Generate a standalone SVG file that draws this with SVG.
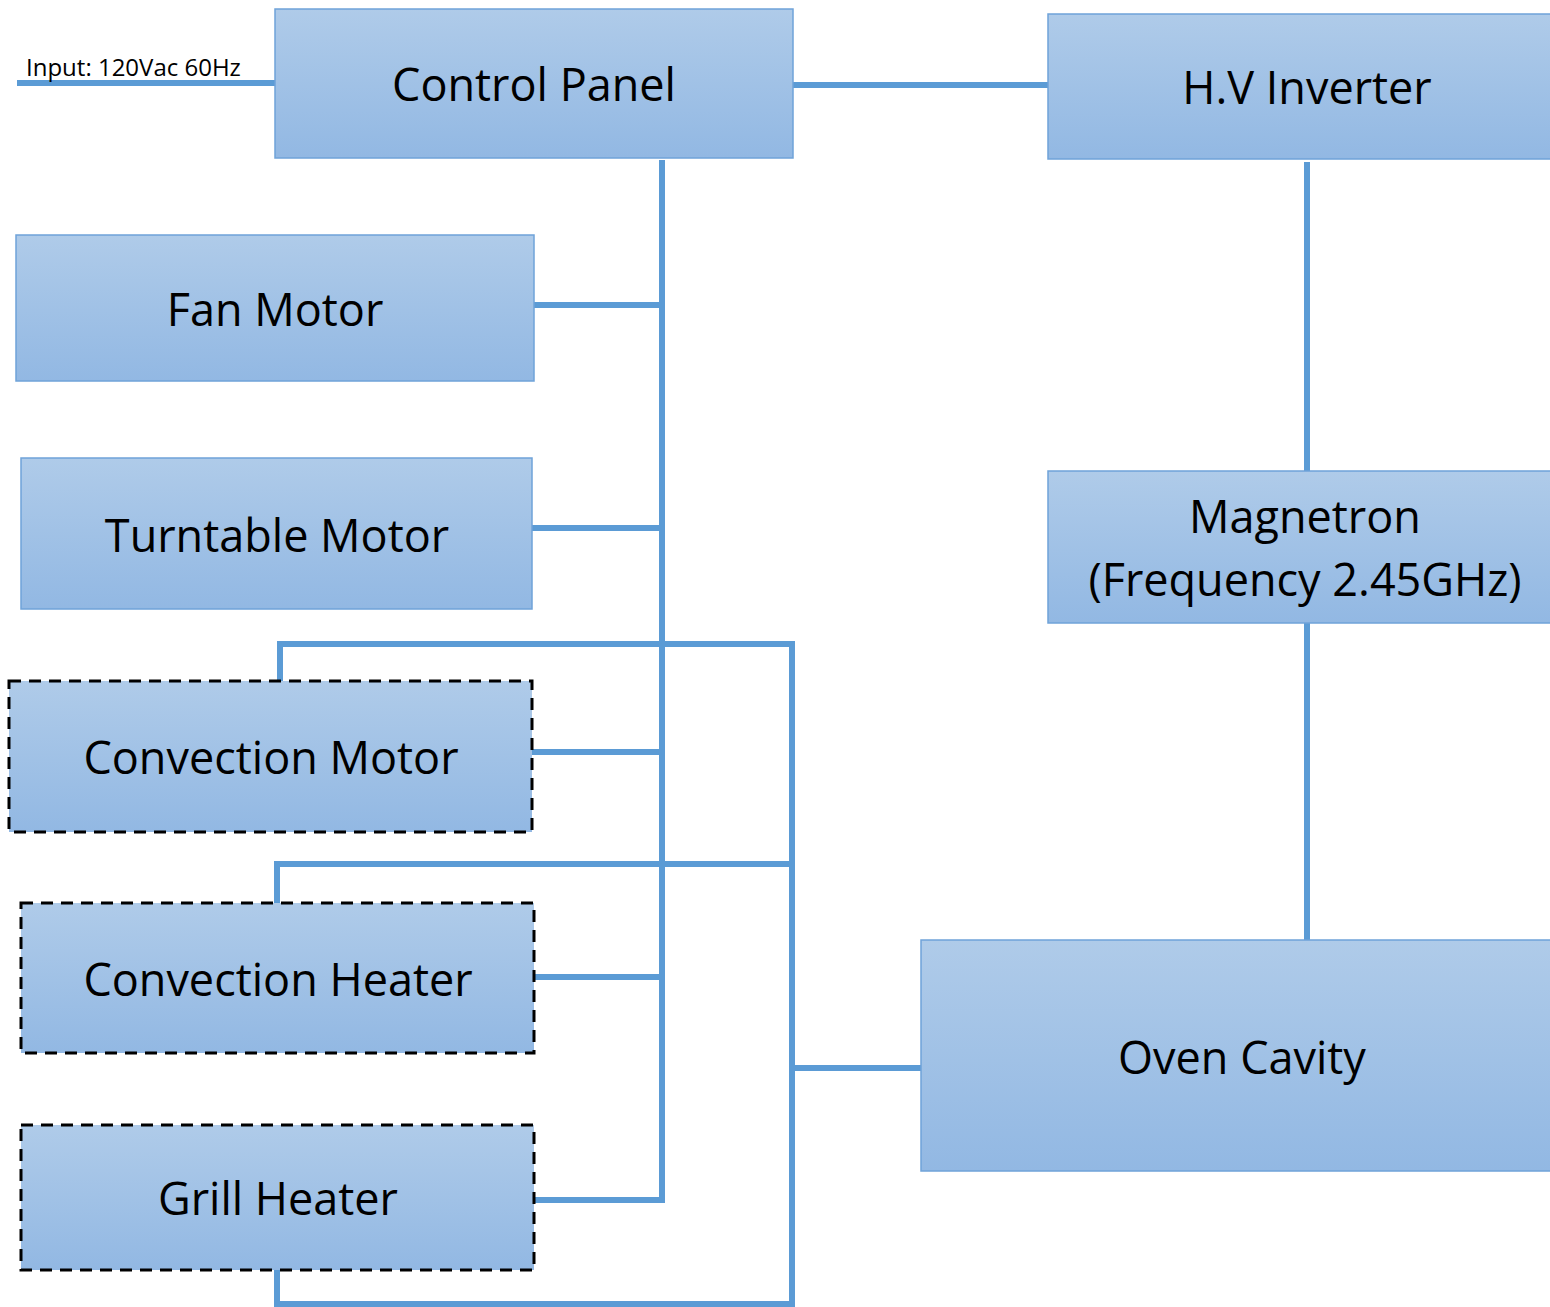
<svg xmlns="http://www.w3.org/2000/svg" width="1550" height="1307" viewBox="0 0 1550 1307">
<defs>
<linearGradient id="g" x1="0" y1="0" x2="0" y2="1">
<stop offset="0" stop-color="#afcbe9"/>
<stop offset="1" stop-color="#92b8e3"/>
</linearGradient>
<style>
.box{fill:url(#g);stroke:#6fa3d9;stroke-width:1.5}
.dash{fill:url(#g);stroke:#000;stroke-width:3;stroke-dasharray:12 8}
.lbl{font-family:"Open Sans","Noto Sans",sans-serif;font-size:45px;fill:#000;text-anchor:middle}
.small{font-family:"Open Sans","Noto Sans",sans-serif;font-size:24px;fill:#000}
.c{stroke:#5b9bd5;stroke-width:6;fill:none}
</style>
</defs>
<rect width="1550" height="1307" fill="#fff"/>
<g id="connectors">
<path class="c" d="M17 83H275"/>
<path class="c" d="M793 85H1048"/>
<path class="c" d="M662 160V1203"/>
<path class="c" d="M534 305H662"/>
<path class="c" d="M532 528H662"/>
<path class="c" d="M532 752H662"/>
<path class="c" d="M530 977H662"/>
<path class="c" d="M534 1200H665"/>
<path class="c" d="M280 681V644H792"/>
<path class="c" d="M792 641V1307"/>
<path class="c" d="M277 903V864H792"/>
<path class="c" d="M277 1270V1304H795"/>
<path class="c" d="M792 1068H921"/>
<path class="c" d="M1307 162V471"/>
<path class="c" d="M1307 623V940"/>
<text class="small" x="26" y="76">Input: 120Vac 60Hz</text>
</g>
<g id="control-panel"><rect class="box" x="275" y="9" width="518" height="149"/><text class="lbl" x="534" y="101">Control Panel</text></g>
<g id="hv-inverter"><rect class="box" x="1048" y="14" width="510" height="145"/><text class="lbl" x="1307" y="104">H.V Inverter</text></g>
<g id="fan-motor"><rect class="box" x="16" y="235" width="518" height="146"/><text class="lbl" x="275" y="326">Fan Motor</text></g>
<g id="turntable-motor"><rect class="box" x="21" y="458" width="511" height="151"/><text class="lbl" x="277" y="552">Turntable Motor</text></g>
<g id="convection-motor"><rect class="dash" x="9" y="681" width="523" height="151"/><text class="lbl" x="271" y="774">Convection Motor</text></g>
<g id="convection-heater"><rect class="dash" x="21" y="903" width="513" height="150"/><text class="lbl" x="278" y="996">Convection Heater</text></g>
<g id="grill-heater"><rect class="dash" x="21" y="1125" width="513" height="145"/><text class="lbl" x="278" y="1215">Grill Heater</text></g>
<g id="magnetron"><rect class="box" x="1048" y="471" width="510" height="152"/><text class="lbl" x="1305" y="533">Magnetron</text><text class="lbl" x="1305" y="596">(Frequency 2.45GHz)</text></g>
<g id="oven-cavity"><rect class="box" x="921" y="940" width="637" height="231"/><text class="lbl" x="1242" y="1074">Oven Cavity</text></g>
</svg>
